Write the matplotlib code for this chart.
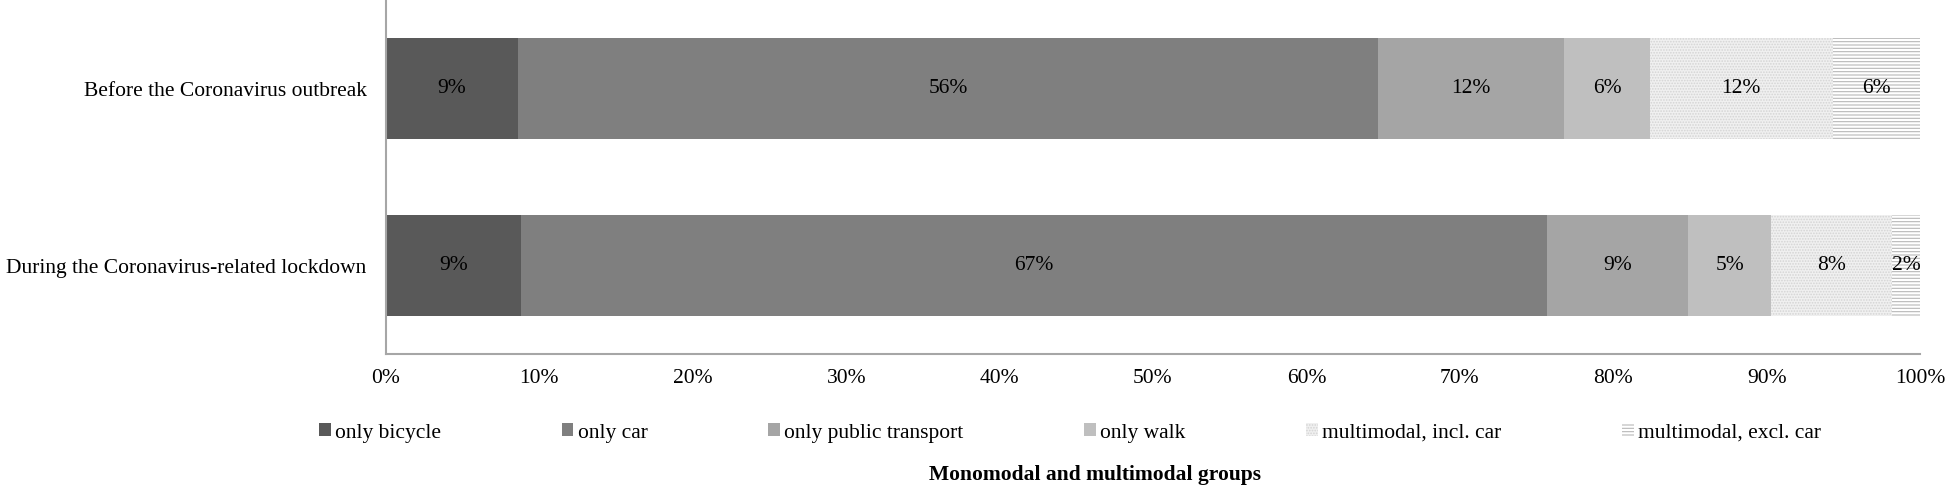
import matplotlib
matplotlib.use('Agg')
import matplotlib.pyplot as plt
import numpy as np

# data (percent of respondents)
periods = ['During the Coronavirus-related lockdown', 'Before the Coronavirus outbreak']
groups = ['only bicycle', 'only car', 'only public transport', 'only walk',
          'multimodal, incl. car', 'multimodal, excl. car']
before = [8.6, 56.1, 12.1, 5.6, 11.9, 5.7]
during = [8.8, 66.9, 9.2, 5.4, 7.9, 1.8]

colors = ['#595959', '#7f7f7f', '#a5a5a5', '#bfbfbf', '#f0f0f0', 'white']
hatches = [None, None, None, None, '......', '-----']
hatch_colors = [None, None, None, None, '#d4d4d4', '#b8b8b8']

FS = 15.5
plt.rcParams['font.family'] = ['Liberation Serif', 'DejaVu Serif']
plt.rcParams['hatch.linewidth'] = 0.8

fig = plt.figure(figsize=(19.46, 4.88), dpi=100)
ax = fig.add_axes([386 / 1946, 1 - 354 / 488, (1920 - 386) / 1946, 354 / 488])

values = np.array([during, before])
y = np.arange(len(periods))
left = np.zeros(len(periods))
handles = []
for i, g in enumerate(groups):
    vals = values[:, i]
    bars = ax.barh(y, vals, left=left, height=0.57, color=colors[i], linewidth=0,
                   label=g)
    if hatches[i]:
        for b in bars:
            b.set_hatch(hatches[i])
            b.set_edgecolor(hatch_colors[i])
            b.set_linewidth(0)
    handles.append(bars)
    for yy, v, l in zip(y, vals, left):
        ax.text(l + v / 2, yy, f'{v:.0f}%', ha='center', va='center', fontsize=FS,
                color='black')
    left += vals

ax.set_xlim(0, 100)
ax.set_ylim(-0.5, 1.5)
ax.set_yticks(y)
ax.set_yticklabels(periods, fontsize=FS)
ax.set_xticks(np.arange(0, 101, 10))
ax.set_xticklabels([f'{t}%' for t in range(0, 101, 10)], fontsize=FS)
ax.tick_params(length=0, pad=11)
ax.tick_params(axis='y', pad=14)
for s in ['top', 'right']:
    ax.spines[s].set_visible(False)
for s in ['left', 'bottom']:
    ax.spines[s].set_color('#a6a6a6')
    ax.spines[s].set_linewidth(1.5)

fig.legend(handles=handles, labels=groups, loc='center', ncol=6,
           bbox_to_anchor=(1070 / 1946, 1 - 433 / 488), frameon=False,
           fontsize=FS, handlelength=0.55, handleheight=0.55, handletextpad=0.2,
           columnspacing=5.6)

fig.text(1095 / 1946, 1 - 475 / 488, 'Monomodal and multimodal groups',
         ha='center', va='center', fontsize=FS, fontweight='bold')

plt.savefig('out.png', dpi=100)
